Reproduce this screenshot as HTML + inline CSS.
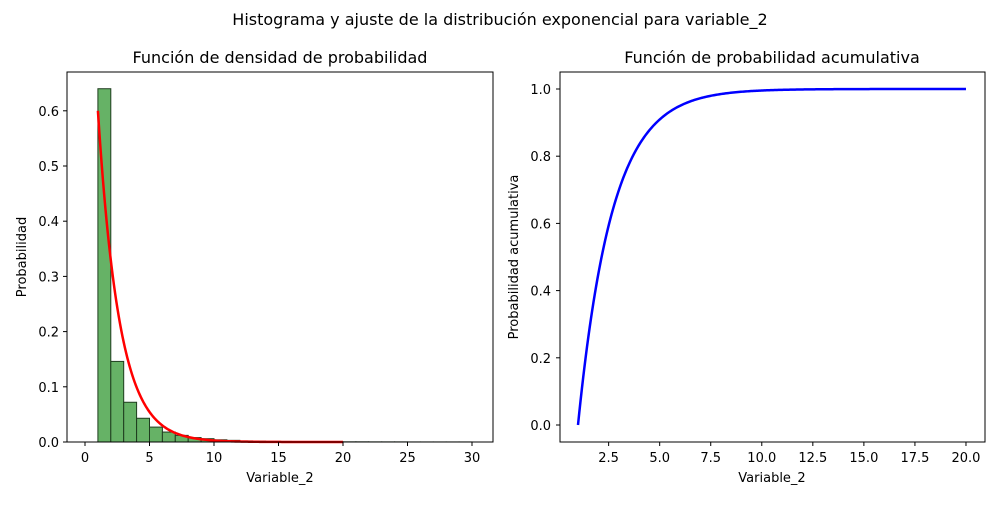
<!DOCTYPE html>
<html><head><meta charset="utf-8"><style>
body{margin:0;background:#fff;font-family:"Liberation Sans","DejaVu Sans",sans-serif;}
svg text{font-family:"DejaVu Sans","Liberation Sans",sans-serif;fill:#000;}
</style></head><body>
<svg id="c" width="1000" height="500" xmlns="http://www.w3.org/2000/svg">
<text x="500" y="25" text-anchor="middle" font-size="16">Histograma y ajuste de la distribución exponencial para variable_2</text>
<g id="L"></g><g id="R"></g>
</svg>
<script>
const histEdgesStart = 1;
const histBinWidth = 1;
const histValues = [0.64,0.146,0.072,0.043,0.027,0.018,0.012,0.008,0.006,0.004,0.003,0.002,0.0015,0.001,0.001,0.0008,0.0006,0.0005,0.0004,0.0003,0.0003,0.0002,0.0002,0.0002,0.0001,0.0001,0.0001,0.0001,0.0001];
const lambdaRate = 0.6;
const locShift = 1;
const curveRange = [1,20];
const leftXTicks = [0,5,10,15,20,25,30];
const leftYTicks = [0,0.1,0.2,0.3,0.4,0.5,0.6];
const rightXTicks = [2.5,5,7.5,10,12.5,15,17.5,20];
const rightYTicks = [0,0.2,0.4,0.6,0.8,1.0];
const NS="http://www.w3.org/2000/svg";
function mk(p,t,a){const e=document.createElementNS(NS,t);for(const k in a)e.setAttribute(k,a[k]);p.appendChild(e);return e;}
const L=document.getElementById('L'),R=document.getElementById('R');
// left axes
const lx=v=>85+v*12.9, ly=v=>442-v*552;
histValues.forEach((v,i)=>{const x0=histEdgesStart+i*histBinWidth;
 const r=mk(L,'rect',{x:lx(x0),y:ly(v),width:lx(x0+histBinWidth)-lx(x0),height:442-ly(v),fill:'#66b266',stroke:'#1f3d1f','stroke-width':1});
 
 });
let p='';for(let i=0;i<=200;i++){const x=curveRange[0]+(curveRange[1]-curveRange[0])*i/200;const y=lambdaRate*Math.exp(-lambdaRate*(x-locShift));p+=(i?'L':'M')+lx(x).toFixed(2)+','+ly(y).toFixed(2);}
const pc=mk(L,'path',{d:p,fill:'none',stroke:'red','stroke-width':2.5});


const lf=mk(L,'rect',{x:67,y:72,width:426,height:370,fill:'none',stroke:'#000','stroke-width':1});


leftXTicks.forEach(t=>{mk(L,'line',{x1:lx(t),x2:lx(t),y1:442,y2:446,stroke:'#000'});const e=mk(L,'text',{x:lx(t),y:462,'text-anchor':'middle','font-size':13});e.textContent=t;
 
 });
leftYTicks.forEach(t=>{mk(L,'line',{x1:63,x2:67,y1:ly(t),y2:ly(t),stroke:'#000'});const e=mk(L,'text',{x:59,y:ly(t)+5,'text-anchor':'end','font-size':13});e.textContent=t.toFixed(1);
 
 });
let t1=mk(L,'text',{x:280,y:63,'text-anchor':'middle','font-size':16});t1.textContent='Función de densidad de probabilidad';

let t2=mk(L,'text',{x:280,y:482,'text-anchor':'middle','font-size':13});t2.textContent='Variable_2';

let t3=mk(L,'text',{x:0,y:0,'text-anchor':'middle','font-size':13,transform:'translate(26,257) rotate(-90)'});t3.textContent='Probabilidad';

// right axes
const rx=v=>578+(v-1)*20.42, ry=v=>425-v*336;
p='';for(let i=0;i<=300;i++){const x=curveRange[0]+(curveRange[1]-curveRange[0])*i/300;const y=1-Math.exp(-lambdaRate*(x-locShift));p+=(i?'L':'M')+rx(x).toFixed(2)+','+ry(y).toFixed(2);}
const cc=mk(R,'path',{d:p,fill:'none',stroke:'blue','stroke-width':2.5});


const rf=mk(R,'rect',{x:560,y:72,width:425,height:370,fill:'none',stroke:'#000','stroke-width':1});


rightXTicks.forEach(t=>{mk(R,'line',{x1:rx(t),x2:rx(t),y1:442,y2:446,stroke:'#000'});const e=mk(R,'text',{x:rx(t),y:462,'text-anchor':'middle','font-size':13});e.textContent=t.toFixed(1);
 
 });
rightYTicks.forEach(t=>{mk(R,'line',{x1:556,x2:560,y1:ry(t),y2:ry(t),stroke:'#000'});const e=mk(R,'text',{x:551,y:ry(t)+5,'text-anchor':'end','font-size':13});e.textContent=t.toFixed(1);
 
 });
let t4=mk(R,'text',{x:772,y:63,'text-anchor':'middle','font-size':16});t4.textContent='Función de probabilidad acumulativa';

let t5=mk(R,'text',{x:772,y:482,'text-anchor':'middle','font-size':13});t5.textContent='Variable_2';

let t6=mk(R,'text',{x:0,y:0,'text-anchor':'middle','font-size':13,transform:'translate(518,257) rotate(-90)'});t6.textContent='Probabilidad acumulativa';

</script>
</body></html>
